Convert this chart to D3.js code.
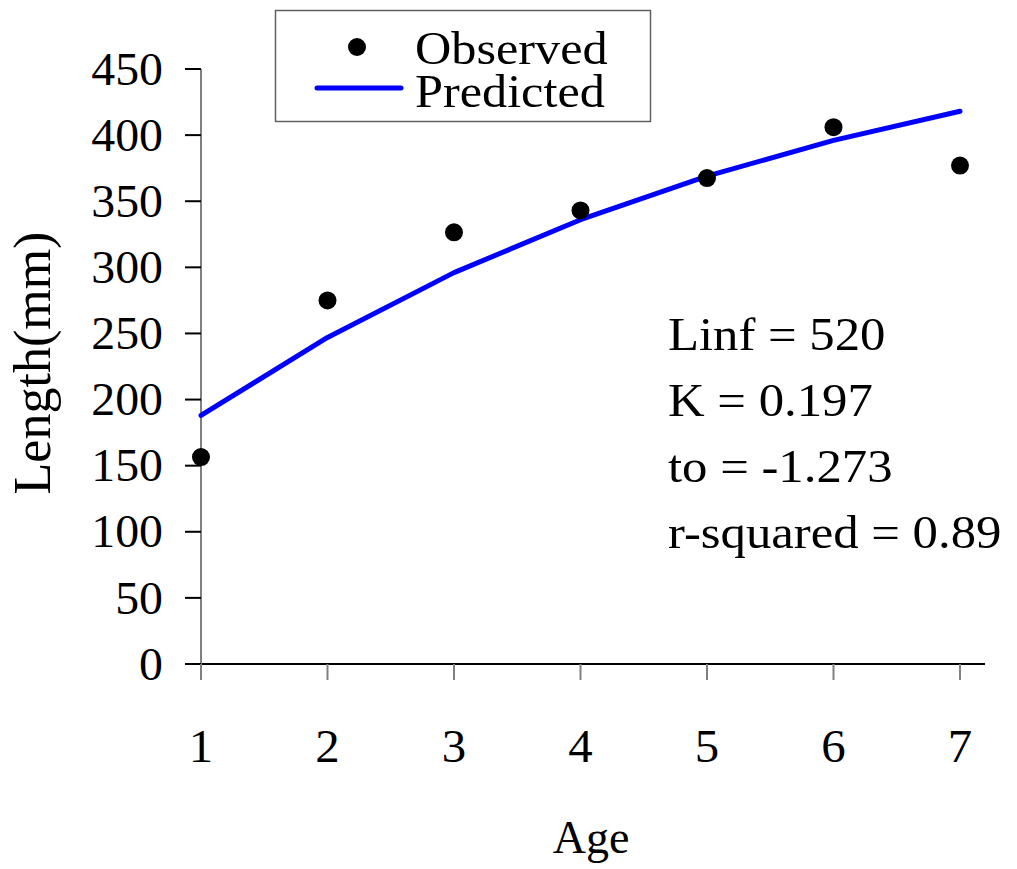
<!DOCTYPE html>
<html><head><meta charset="utf-8">
<script src="https://cdn.jsdelivr.net/npm/d3@7"></script>
<style>body{margin:0;background:#fff}text{font-family:"Liberation Serif","Times New Roman",serif;fill:#000}</style>
</head><body><svg id="c" width="1017" height="869"></svg>
<script>
const ages = [1,2,3,4,5,6,7];
const observed = [156.5,275,326.5,343,367.5,406,377];
const predicted = [188,247,296,336,369,396,418];
const yTicks = [0,50,100,150,200,250,300,350,400,450];
const notes = ["Linf = 520","K = 0.197","to = -1.273","r-squared = 0.89"];

const svg = d3.select("#c");
const x = d3.scaleLinear().domain([1,7]).range([201,960]);
const y = d3.scaleLinear().domain([0,450]).range([664,69]);
const tr = (px,py,s)=>`translate(${px},${py}) scale(${s},1)`;

// x axis line
svg.append("line").attr("x1",185).attr("x2",985).attr("y1",y(0)).attr("y2",y(0)).attr("stroke","#000").attr("stroke-width",2);
// y axis line
svg.append("line").attr("x1",x(1)).attr("x2",x(1)).attr("y1",y(450)).attr("y2",y(0)).attr("stroke","#808080").attr("stroke-width",2);
// y ticks
svg.selectAll(".yt").data(yTicks).enter().append("line").attr("x1",185).attr("x2",x(1)).attr("y1",d=>y(d)).attr("y2",d=>y(d)).attr("stroke","#000").attr("stroke-width",2);
svg.selectAll(".yl").data(yTicks).enter().append("text").attr("transform",d=>tr(163,y(d),1.04)).attr("dy","0.34em").attr("text-anchor","end").attr("font-size",46).text(d=>d);
// x ticks
svg.selectAll(".xt").data(ages).enter().append("line").attr("x1",d=>x(d)).attr("x2",d=>x(d)).attr("y1",y(0)).attr("y2",y(0)+16).attr("stroke","#808080").attr("stroke-width",2);
svg.selectAll(".xl").data(ages).enter().append("text").attr("transform",d=>tr(x(d),762,1.04)).attr("text-anchor","middle").attr("font-size",47).text(d=>d);

svg.append("text").attr("x",591).attr("y",853).attr("text-anchor","middle").attr("font-size",46).text("Age");
svg.append("text").attr("transform","translate(50,363) rotate(-90)").attr("text-anchor","middle").attr("font-size",52).text("Length(mm)");

// predicted line
svg.append("path").datum(ages.map((a,i)=>[a,predicted[i]]))
 .attr("d",d3.line().x(d=>x(d[0])).y(d=>y(d[1])))
 .attr("fill","none").attr("stroke","#0000ff").attr("stroke-width",5).attr("stroke-linecap","round").attr("stroke-linejoin","round");
// observed points
svg.selectAll(".pt").data(ages).enter().append("circle").attr("cx",d=>x(d)).attr("cy",(d,i)=>y(observed[i])).attr("r",9).attr("fill","#000");

// annotation
svg.selectAll(".nt").data(notes).enter().append("text").attr("transform",(d,i)=>tr(668,350+i*66,1.08)).attr("font-size",47).text(d=>d);

// legend
svg.append("rect").attr("x",275.5).attr("y",10.5).attr("width",375).attr("height",111).attr("fill","#fff").attr("stroke","#606060").attr("stroke-width",1.5);
svg.append("circle").attr("cx",357).attr("cy",47).attr("r",9).attr("fill","#000");
svg.append("line").attr("x1",317).attr("x2",401).attr("y1",88).attr("y2",88).attr("stroke","#0000ff").attr("stroke-width",5).attr("stroke-linecap","round");
svg.append("text").attr("transform",tr(415,64,1.07)).attr("font-size",47).text("Observed");
svg.append("text").attr("transform",tr(415,107,1.07)).attr("font-size",47).text("Predicted");
</script></body></html>
